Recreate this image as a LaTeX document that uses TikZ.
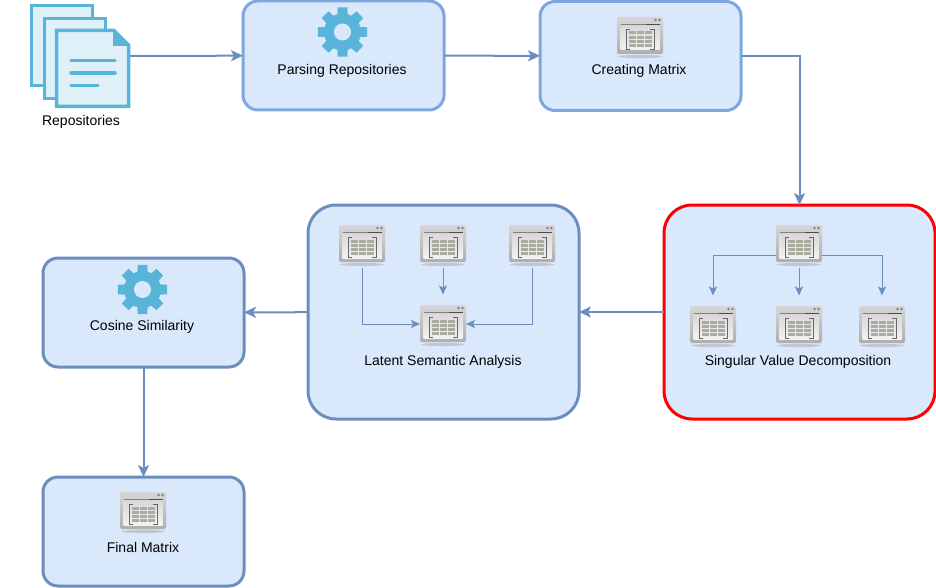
\documentclass[tikz,border=0pt]{standalone}
\usepackage{fontspec}
\setmainfont{Liberation Sans}
\usetikzlibrary{arrows.meta}
\definecolor{boxfill}{HTML}{DAE8FC}
\definecolor{boxline}{HTML}{6C8EBF}
\definecolor{topline}{HTML}{7EA6E0}
\definecolor{iconblue}{HTML}{59B4D9}
\definecolor{docfill}{HTML}{DFF0F8}
\definecolor{cellgrey}{HTML}{A8ADA0}
\tikzset{
	box/.style={draw=boxline, fill=boxfill, line width=3pt, rounded corners=15pt, minimum width=201pt, minimum height=109pt, inner sep=0pt, outer sep=0pt},
	topbox/.style={box, draw=topline},
	bigbox/.style={box, rounded corners=28pt, minimum width=271pt, minimum height=214pt},
	lab/.style={font=\fontsize{14}{16}\selectfont, inner sep=0pt, text=black},
	iconbox/.style={minimum width=46pt, minimum height=47pt, inner sep=0pt, outer sep=0pt},
	conn/.style={draw=boxline, line width=2pt, -{Stealth[length=12pt, width=11pt, inset=3pt]}},
	thin conn/.style={draw=boxline, line width=1pt, -{Stealth[length=9pt, width=8pt, inset=2pt]}},
	matrixicon/.pic={
		\fill[black!30, opacity=0.6] (0, 20.5) ellipse (22 and 1.6);
		\shade[top color=black!16, bottom color=black!32, rounded corners=2pt] (-23, -19) rectangle (23, 18);
		\shade[top color=black!16, bottom color=black!5] (-19.5, -12) rectangle (19.5, 14);
		\draw[black!50, line width=0.8pt] (-19.5, -11.5) -- (19.5, -11.5);
		\draw[black!70, line width=1.2pt] (6, -11.5) -- (19.5, -11.5);
		\fill[black!50] (15.5, -16) circle (1.3) (19.5, -16) circle (1.3);
		\draw[black!60, line width=0.7pt] (-10, -6.5) -- (-14, -6.5) -- (-14, 13) -- (-10, 13);
		\draw[black!60, line width=0.7pt] (10, -6.5) -- (14, -6.5) -- (14, 13) -- (10, 13);
		\foreach \row in {0,1,2,3}
			\foreach \col in {0,1,2}
				\fill[cellgrey] ({-11.5+8*\col}, {-4.5+4.2*\row}) rectangle ({-4.5+8*\col}, {-1.5+4.2*\row});
	},
	gearicon/.pic={
		\fill[iconblue] (0, 0) circle (18.5);
		\foreach \a in {0,45,...,315}
			\fill[iconblue] (\a-18:17) -- (\a-11:25) -- (\a+11:25) -- (\a+18:17) -- cycle;
		\fill[boxfill] (0, 0) circle (8.5);
	},
	docsheet/.pic={
		\draw[iconblue, fill=docfill, line width=3.5pt] (1.5, 1.5) rectangle (62.5, 81.5);
	},
}
\def\matnode(#1)(#2,#3){\node[iconbox] (#1) at (#2, #3) {}; \pic at (#2, #3) {matrixicon};}
\begin{document}
\begin{tikzpicture}[x=1pt, y=-1pt]
	\useasboundingbox (0, 0) rectangle (936, 588);
	%%%%% boxes %%%%%
	\node[topbox] (parsing) at (343.5, 55.5) {};
	\node[topbox] (creating) at (640.5, 56) {};
	\node[bigbox, draw=red] (svd) at (799.5, 312) {};
	\node[bigbox] (lsa) at (443.5, 312) {};
	\node[box] (cosine) at (143.5, 312.5) {};
	\node[box] (final) at (143.5, 531.5) {};
	
	%%%%% repositories %%%%%
	\node[minimum width=75pt, minimum height=104pt, inner sep=0pt, outer sep=0pt] (repos) at (92.5, 56) {};
	\pic at (30, 4) {docsheet};
	\pic at (43, 17) {docsheet};
	\draw[iconblue, fill=docfill, line width=3.5pt] (56.5, 30.5) -- (114, 30.5) -- (128.5, 45) -- (128.5, 106.5) -- (56.5, 106.5) -- cycle;
	\fill[iconblue] (113, 30) -- (130, 46) -- (113, 46) -- cycle;
	\draw[iconblue, line width=3.5pt, line cap=round] (71, 60.5) -- (115, 60.5);
	\draw[iconblue, line width=3.5pt, line cap=round] (71, 73) -- (115, 73);
	\draw[iconblue, line width=3.5pt, line cap=round] (71, 85.5) -- (98, 85.5);
	\node[lab] (reposlab) at (81, 122) {Repositories};
	
	%%%%% icons %%%%%
	\pic at (342.5, 32) {gearicon};
	\pic at (142.5, 289.5) {gearicon};
	\matnode(creatingicon)(640,36)
	\matnode(finalicon)(143,511)
	
	\matnode(lsaleft)(362,244)
	\matnode(lsamid)(443,244)
	\matnode(lsaright)(532,244)
	\matnode(lsaout)(443,324)
	
	\matnode(svdtop)(799,244)
	\matnode(svdleft)(713,325)
	\matnode(svdmid)(799,325)
	\matnode(svdright)(882,325)
	
	%%%%% labels %%%%%
	\node[lab] (parsinglab) at (342, 71) {Parsing Repositories};
	\node[lab] (creatinglab) at (639, 71) {Creating Matrix};
	\node[lab] (svdlab) at (798, 362) {Singular Value Decomposition};
	\node[lab] (lsalab) at (443, 362) {Latent Semantic Analysis};
	\node[lab] (cosinelab) at (142, 327) {Cosine Similarity};
	\node[lab] (finallab) at (143, 547) {Final Matrix};
	
	%%%%% connectors %%%%%
	\draw[conn] (repos) -- (parsing);
	\draw[conn] (parsing) -- (creating);
	\draw[conn] (creating.east) -| (svd.north);
	\draw[conn] (svd) -- (lsa);
	\draw[conn] (lsa) -- (cosine);
	\draw[conn] (cosine) -- (final);
	
	\draw[thin conn] (lsaleft.south) |- (lsaout.west);
	\draw[thin conn] (lsamid.south) -- ([yshift=6pt]lsaout.north);
	\draw[thin conn] (lsaright.south) |- (lsaout.east);
	
	\draw[thin conn] ([yshift=-11pt]svdtop.west) -| ([yshift=6pt]svdleft.north);
	\draw[thin conn] (svdtop.south) -- ([yshift=6pt]svdmid.north);
	\draw[thin conn] ([yshift=-11pt]svdtop.east) -| ([yshift=6pt]svdright.north);
\end{tikzpicture}
\end{document}
